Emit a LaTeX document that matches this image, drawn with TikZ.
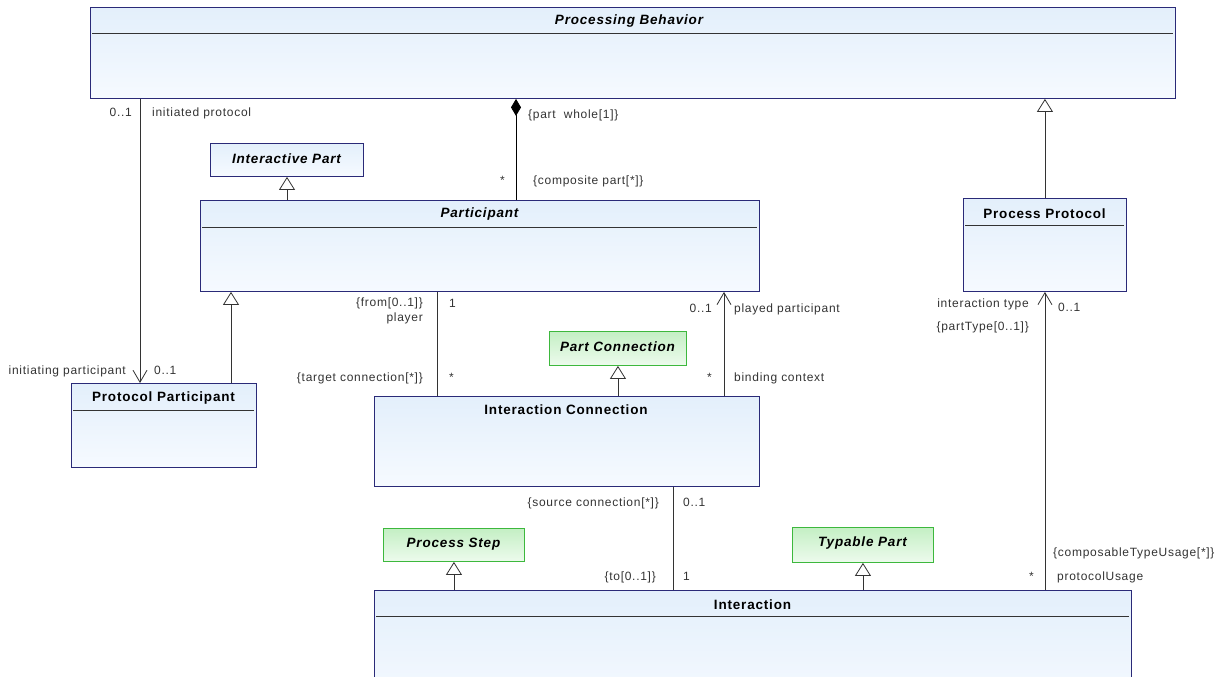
\documentclass[tikz,border=0pt]{standalone}
\usepackage{fontspec}
\setmainfont{Liberation Sans}
\newfontfamily\lblfont[LetterSpace=6]{Liberation Sans}
\newfontfamily\ttlfont[LetterSpace=6]{Liberation Sans}
\usetikzlibrary{arrows.meta}

\definecolor{clsline}{HTML}{2A2A78}
\definecolor{clstop}{HTML}{E3EFFB}
\definecolor{clsbot}{HTML}{F6FAFF}
\definecolor{ifline}{HTML}{3DB83D}
\definecolor{iftop}{HTML}{C4EFC4}
\definecolor{ifbot}{HTML}{EDFBED}
\definecolor{wire}{HTML}{333333}
\definecolor{lbltext}{HTML}{333333}

\tikzset{
  umlclass/.style={rectangle, draw=clsline, line width=0.9pt, anchor=north west,
    inner sep=0pt, top color=clstop, bottom color=clsbot},
  umlif/.style={rectangle, draw=ifline, line width=0.9pt, anchor=north west,
    inner sep=0pt, top color=iftop, bottom color=ifbot},
  ttl/.style={inner sep=0pt, font=\ttlfont\bfseries\fontsize{13.5}{15}\selectfont},
  ittl/.style={ttl, font=\ttlfont\bfseries\itshape\fontsize{13.5}{15}\selectfont},
  lbl/.style={inner sep=0pt, text=lbltext, text height=8.5pt, text depth=2.5pt,
    font=\lblfont\fontsize{12}{13}\selectfont},
  divider/.style={draw=black!80, line width=0.9pt},
  assoc/.style={draw=wire, line width=0.8pt, -{Straight Barb[length=12pt,width=14pt]}},
  plainlink/.style={draw=wire, line width=0.8pt},
  gen/.style={draw=wire, line width=0.8pt, -{Triangle[open,fill=white,length=13pt,width=16pt]}},
  comp/.style={draw=black, line width=0.8pt, {Diamond[length=17pt,width=10pt]}-},
}

\begin{document}
\begin{tikzpicture}[x=1pt, y=-1pt]
    \useasboundingbox (0,0) rectangle (1229,677);
    \clip (0,0) rectangle (1229,677);

    % Classes
    \node[umlclass, minimum width=1085pt, minimum height=91pt] (behavior) at (90,7) {};
    \node[ittl] (behaviorT) at (629,21) {Processing Behavior};
    \draw[divider] (92,33) -- (1173,33);

    \node[umlclass, minimum width=153pt, minimum height=33pt] (interpart) at (210,143) {};
    \node[ittl] (interpartT) at (286.5,159) {Interactive Part};

    \node[umlclass, minimum width=559pt, minimum height=91pt] (participant) at (200,200) {};
    \node[ittl] (participantT) at (479.5,214) {Participant};
    \draw[divider] (202,227) -- (757,227);

    \node[umlclass, minimum width=163pt, minimum height=93pt] (protocol) at (963,198) {};
    \node[ttl] (protocolT) at (1044.5,214) {Process Protocol};
    \draw[divider] (965,225) -- (1124,225);

    \node[umlclass, minimum width=185pt, minimum height=84pt] (protpart) at (71,383) {};
    \node[ttl] (protpartT) at (163.5,398) {Protocol Participant};
    \draw[divider] (73,410) -- (254,410);

    \node[umlclass, minimum width=385pt, minimum height=90pt] (interconn) at (374,396) {};
    \node[ttl] (interconnT) at (566,410) {Interaction Connection};

    \node[umlclass, minimum width=757pt, minimum height=120pt] (interaction) at (374,590) {};
    \node[ttl] (interactionT) at (752.5,605) {Interaction};
    \draw[divider] (376,616) -- (1129,616);

    % Interfaces
    \node[umlif, minimum width=137pt, minimum height=34pt] (partconn) at (549,331) {};
    \node[ittl] (partconnT) at (617.5,347) {Part Connection};

    \node[umlif, minimum width=141pt, minimum height=33pt] (procstep) at (383,528) {};
    \node[ittl] (procstepT) at (453.5,544) {Process Step};

    \node[umlif, minimum width=141pt, minimum height=35pt] (typable) at (792,527) {};
    \node[ittl] (typableT) at (862.5,543) {Typable Part};

    % Connector columns
    \coordinate (colA) at (140,0);
    \coordinate (colB) at (231,0);
    \coordinate (colC) at (287,0);
    \coordinate (colD) at (516,0);
    \coordinate (colE) at (437,0);
    \coordinate (colF) at (724,0);
    \coordinate (colG) at (673,0);

    % Connectors
    \draw[assoc] (behavior.south -| colA) -- (protpart.north -| colA);
    \draw[gen] (protpart.north -| colB) -- (participant.south -| colB);
    \draw[gen] (participant.north -| colC) -- (interpart.south -| colC);
    \draw[comp] (behavior.south -| colD) -- (participant.north -| colD);
    \draw[gen] (protocol.north) -- (behavior.south -| protocol.north);
    \draw[plainlink] (participant.south -| colE) -- (interconn.north -| colE);
    \draw[assoc] (interconn.north -| colF) -- (participant.south -| colF);
    \draw[gen] (interconn.north -| partconn.south) -- (partconn.south);
    \draw[plainlink] (interconn.south -| colG) -- (interaction.north -| colG);
    \draw[gen] (interaction.north -| procstep.south) -- (procstep.south);
    \draw[gen] (interaction.north -| typable.south) -- (typable.south);
    \draw[assoc] (interaction.north -| protocol.south) -- (protocol.south);

    % Labels
    \node[lbl, anchor=east] (mInitProt) at (132,113) {0..1};
    \node[lbl, anchor=west] (rInitProt) at (152,113) {initiated protocol};
    \node[lbl, anchor=east] (rInitPart) at (126,371) {initiating participant};
    \node[lbl, anchor=west] (mInitPart) at (154,371) {0..1};

    \node[lbl, anchor=west] (rWhole) at (528,115) {\{part~~whole[1]\}};
    \node[lbl, anchor=east] (mComposite) at (505,181) {*};
    \node[lbl, anchor=west] (rComposite) at (533,181) {\{composite part[*]\}};

    \node[lbl, anchor=east] (rFrom) at (423,303) {\{from[0..1]\}};
    \node[lbl, anchor=east] (rPlayer) at (423,318) {player};
    \node[lbl, anchor=west] (mPlayer) at (449,304) {1};
    \node[lbl, anchor=east] (rTarget) at (423,378) {\{target connection[*]\}};
    \node[lbl, anchor=west] (mTarget) at (449,378) {*};

    \node[lbl, anchor=east] (mPlayed) at (712,309) {0..1};
    \node[lbl, anchor=west] (rPlayed) at (734,309) {played participant};
    \node[lbl, anchor=east] (mBinding) at (712,378) {*};
    \node[lbl, anchor=west] (rBinding) at (734,378) {binding context};

    \node[lbl, anchor=east] (rIntType) at (1029,304) {interaction type};
    \node[lbl, anchor=east] (rPartType) at (1029,327) {\{partType[0..1]\}};
    \node[lbl, anchor=west] (mIntType) at (1058,308) {0..1};

    \node[lbl, anchor=east] (rSource) at (659,503) {\{source connection[*]\}};
    \node[lbl, anchor=west] (mSource) at (683,503) {0..1};
    \node[lbl, anchor=east] (rTo) at (656,577) {\{to[0..1]\}};
    \node[lbl, anchor=west] (mTo) at (683,577) {1};

    \node[lbl, anchor=west] (rUsage) at (1053,553) {\{composableTypeUsage[*]\}};
    \node[lbl, anchor=west] (rProtUsage) at (1057,577) {protocolUsage};
    \node[lbl, anchor=east] (mProtUsage) at (1034,577) {*};
\end{tikzpicture}
\end{document}
